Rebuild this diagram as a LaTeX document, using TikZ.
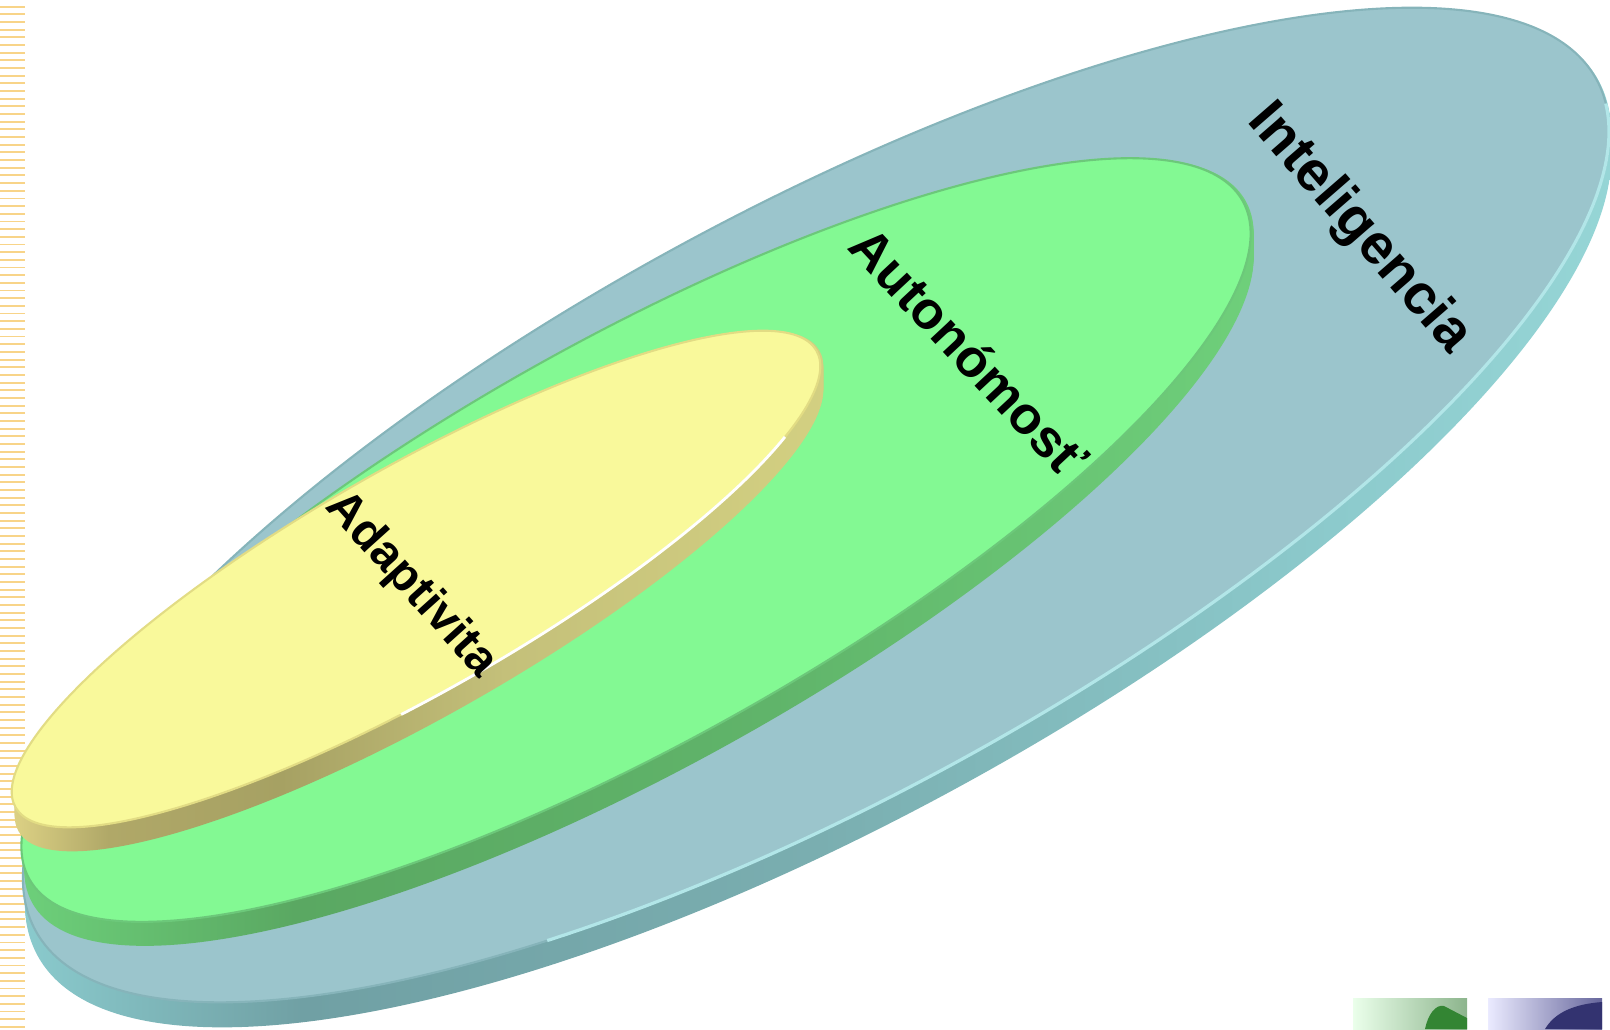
\documentclass[tikz,border=0pt]{standalone}
\usepackage{fontspec}
\setmainfont{Liberation Sans}
\definecolor{stripecol}{HTML}{F8D488}
\definecolor{inttop}{HTML}{9BC5CC}
\definecolor{intedge}{HTML}{86B4BA}
\definecolor{inthigh}{HTML}{B2E6E8}
\definecolor{intsideA}{HTML}{90D4D6}
\definecolor{intsideB}{HTML}{70A0A4}
\definecolor{intsideC}{HTML}{7AAEB0}
\definecolor{intsideD}{HTML}{8CCACC}
\definecolor{intsideE}{HTML}{98D8D8}
\definecolor{autotop}{HTML}{83F993}
\definecolor{autoedge}{HTML}{6CC87A}
\definecolor{autosideA}{HTML}{70D67E}
\definecolor{autosideB}{HTML}{5AA862}
\definecolor{autosideC}{HTML}{60B46A}
\definecolor{autosideD}{HTML}{70D27C}
\definecolor{adapttop}{HTML}{F9F99B}
\definecolor{adaptedge}{HTML}{E2DC84}
\definecolor{adaptsideA}{HTML}{E8DC8C}
\definecolor{adaptsideB}{HTML}{B0A868}
\definecolor{adaptsideC}{HTML}{A6A163}
\definecolor{adaptsideD}{HTML}{C4C07A}
\definecolor{adaptsideE}{HTML}{D4D182}
\pgfdeclarehorizontalshading{intside}{100bp}{color(0bp)=(intsideA); color(25bp)=(intsideA);
  color(35bp)=(intsideB); color(50bp)=(intsideC); color(65bp)=(intsideD);
  color(75bp)=(intsideE); color(100bp)=(intsideE)}
\pgfdeclarehorizontalshading{autoside}{100bp}{color(0bp)=(autosideA); color(25bp)=(autosideA);
  color(37bp)=(autosideB); color(55bp)=(autosideC); color(75bp)=(autosideD);
  color(100bp)=(autosideD)}
\pgfdeclarehorizontalshading{adaptside}{100bp}{color(0bp)=(adaptsideA); color(25bp)=(adaptsideA);
  color(32bp)=(adaptsideB); color(42bp)=(adaptsideC); color(55bp)=(adaptsideD);
  color(75bp)=(adaptsideE); color(100bp)=(adaptsideE)}
\usetikzlibrary{positioning}
\begin{document}
\begin{tikzpicture}[x=0.01cm, y=-0.01cm,
    lbl/.style={font=\fontsize{#1}{19}\selectfont\bfseries, inner sep=0pt},
    stripe/.style={draw=stripecol, line width=0.55pt}]
  \useasboundingbox (0,0) rectangle (1610,1029);

  % left border stripes
  \foreach \i in {0,...,133}
    \draw[stripe] (0,{6.7+\i*7.67}) -- (25,{6.7+\i*7.67});

  % Inteligencia (outer disc)
  \foreach \d in {25,23,...,1}
    \shade[shading=intside]
      (818,{505+\d}) ellipse [x radius=889, y radius=293, rotate=28.6];
  \fill[inttop, draw=intedge, line width=0.6pt]
    (816,505) ellipse [x radius=889, y radius=293, rotate=28.6];
  \begin{scope}[shift={(816,505)}, rotate=28.6]
    \draw[inthigh, line width=0.9pt] (5:889 and 293) arc [start angle=5, end angle=120, x radius=889, y radius=293];
  \end{scope}

  % Autonomost (middle disc)
  \foreach \d in {24,22,...,0}
    \shade[shading=autoside]
      (639,{540+\d}) ellipse [x radius=695, y radius=201, rotate=29.2];
  \fill[autotop, draw=autoedge, line width=0.6pt]
    (636,540) ellipse [x radius=695, y radius=201, rotate=29.2];

  % Adaptivita (inner disc)
  \foreach \d in {24,22,...,0}
    \shade[shading=adaptside]
      (419,{579+\d}) ellipse [x radius=461, y radius=112, rotate=29.7];
  \fill[adapttop, draw=adaptedge, line width=0.6pt]
    (416,579) ellipse [x radius=461, y radius=112, rotate=29.7];
  \begin{scope}[shift={(416,579)}, rotate=29.7]
    \draw[white, line width=0.8pt] (32:461 and 112) arc [start angle=32, end angle=100, x radius=461, y radius=112];
  \end{scope}

  % labels
  \node[lbl=16, rotate=-49] (intel) at (1359,229) {Inteligencia};
  \node[lbl=15, rotate=-47] (auton) at (969,352) {Autonómosť};
  \node[lbl=13.6, rotate=-48] (adapt) at (411,585) {Adaptivita};

  % thumbnails
  \shade[left color=green!8, right color=green!35!black!45!white] (1353,998) rectangle (1467,1029);
  \fill[green!40!black!80] (1425,1029) .. controls (1428,1014) and (1436,1004) .. (1444,1006)
    -- (1467,1018) -- (1467,1029) -- cycle;
  \shade[left color=blue!8, right color=blue!35!black!60!white] (1488,998) rectangle (1602,1029);
  \fill[blue!30!black!80] (1545,1029) .. controls (1555,1012) and (1575,1004) .. (1602,1002)
    -- (1602,1029) -- cycle;
\end{tikzpicture}
\end{document}
